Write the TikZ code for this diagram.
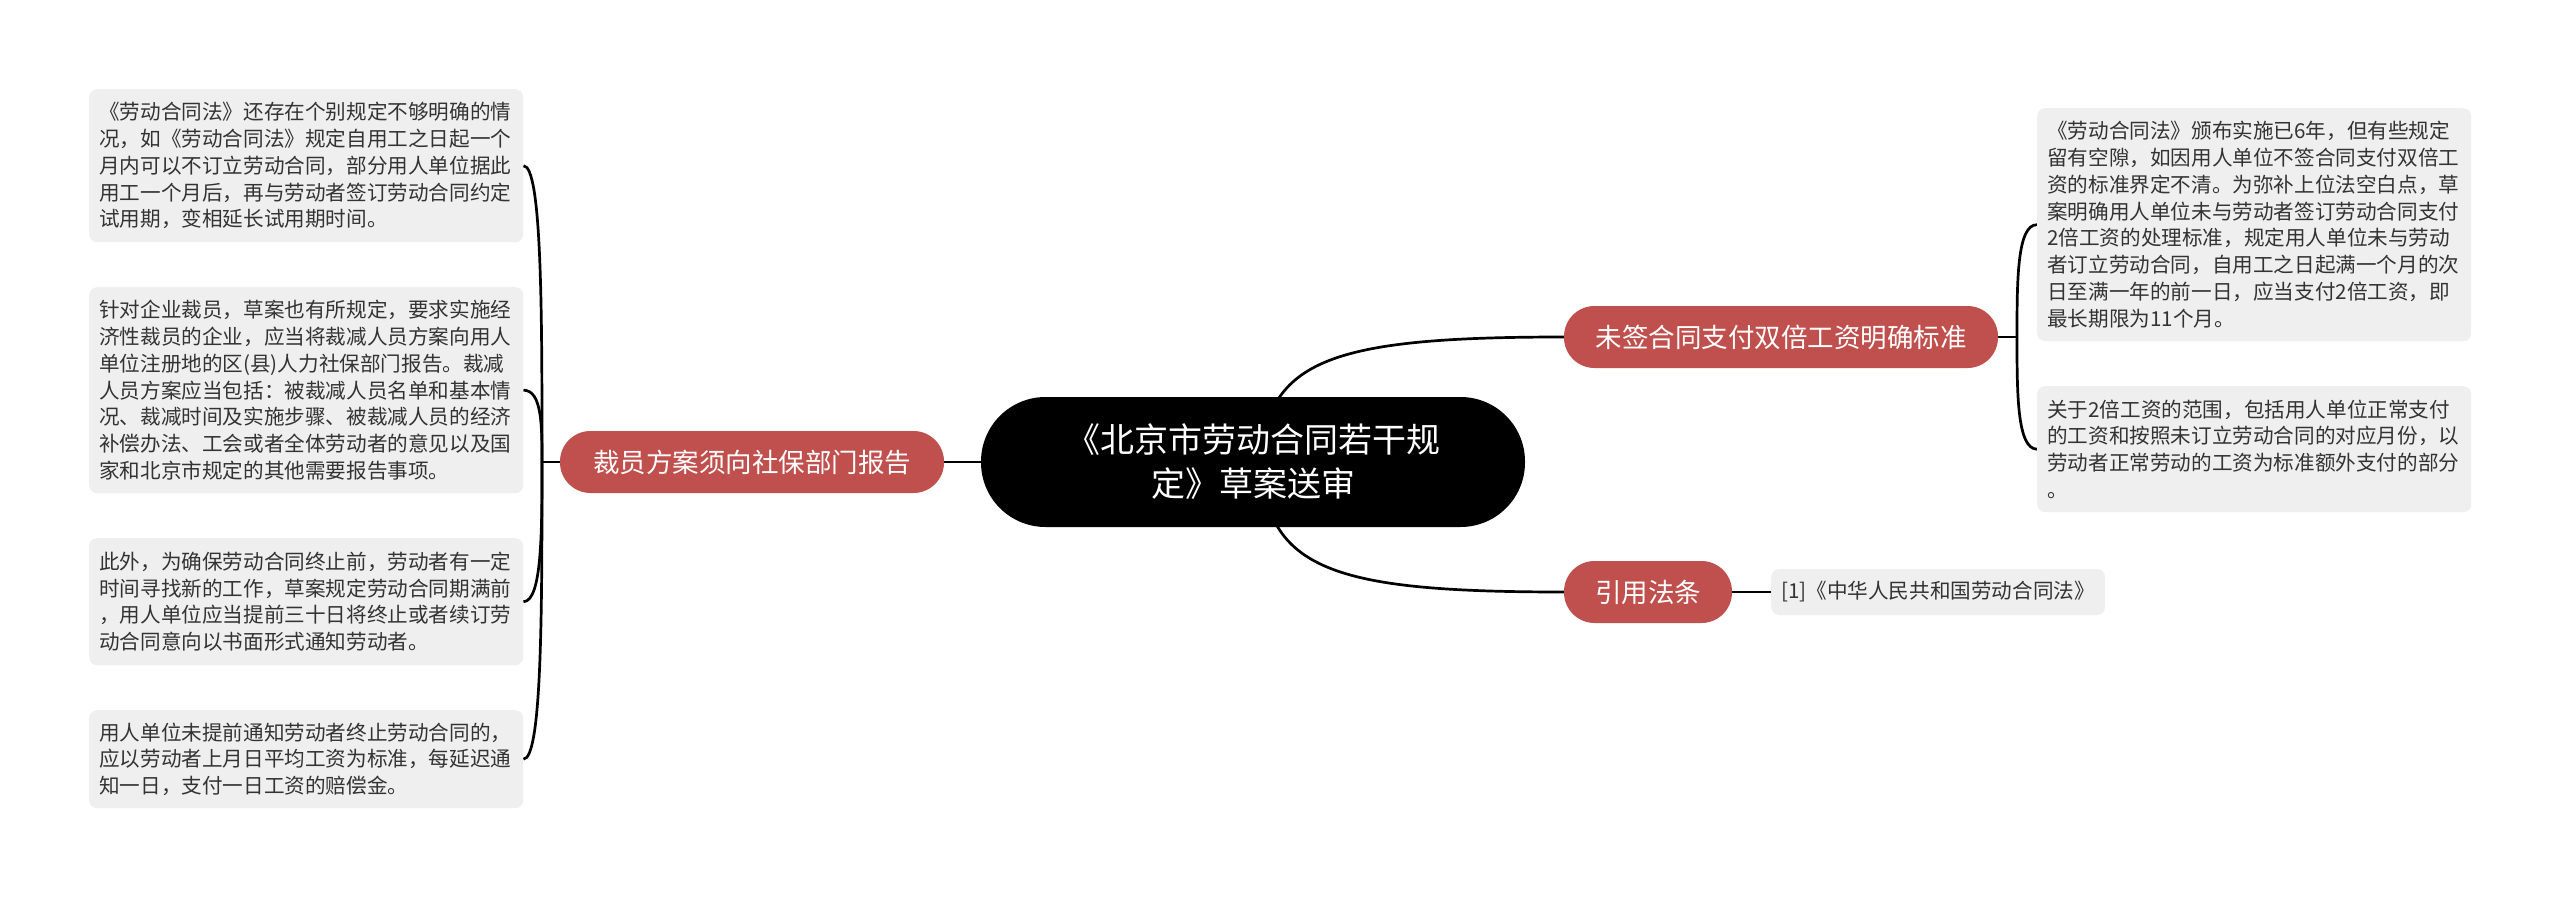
\documentclass[tikz,border=0pt]{standalone}
\usepackage{fontspec}
\newfontfamily\cjk{Noto Sans CJK SC}
\usetikzlibrary{backgrounds}
\definecolor{mred}{HTML}{C0504D}
\definecolor{leafgray}{HTML}{EFEFEF}
\definecolor{txt}{HTML}{333333}
\begin{document}
\begin{tikzpicture}[x=1pt,y=-1pt,
  conn/.style={line width=2.7pt, black},
  rootbox/.style={fill=black, text=white, rounded corners=64.5pt, minimum width=544pt, minimum height=130pt, align=center, inner sep=0pt, font=\cjk\fontsize{34pt}{44pt}\selectfont},
  mainbox/.style={fill=mred, text=white, rounded corners=30.5pt, minimum height=62pt, inner sep=0pt, font=\cjk\fontsize{26.5pt}{32pt}\selectfont},
  leafbox/.style={fill=leafgray, text=txt, rounded corners=8pt, inner xsep=10pt, inner ysep=0pt, font=\cjk\fontsize{20.6pt}{26.8pt}\selectfont},
  para/.style={leafbox, text width=414pt, align=left, minimum width=434pt, anchor=north west}
]
\useasboundingbox (0,0) rectangle (2560,899);

% central topic
\node[rootbox] (root) at (1253,462) {《北京市劳动合同若干规\\定》草案送审};

% main topics
\node[mainbox, minimum width=384pt] (cy) at (752,462) {裁员方案须向社保部门报告};
\node[mainbox, minimum width=434pt] (wq) at (1781,337) {未签合同支付双倍工资明确标准};
\node[mainbox, minimum width=168pt] (yy) at (1648,592) {引用法条};

% leaf under 引用法条
\node[leafbox, minimum height=46pt, anchor=west] (law) at (1771,592) {[1]《中华人民共和国劳动合同法》};

% left leaves
\node[para, minimum height=153pt] (a1) at (89,89) {《劳动合同法》还存在个别规定不够明确的情\\况，如《劳动合同法》规定自用工之日起一个\\月内可以不订立劳动合同，部分用人单位据此\\用工一个月后，再与劳动者签订劳动合同约定\\试用期，变相延长试用期时间。};
\node[para, minimum height=206pt] (a2) at (89,287) {针对企业裁员，草案也有所规定，要求实施经\\济性裁员的企业，应当将裁减人员方案向用人\\单位注册地的区(县)人力社保部门报告。裁减\\人员方案应当包括：被裁减人员名单和基本情\\况、裁减时间及实施步骤、被裁减人员的经济\\补偿办法、工会或者全体劳动者的意见以及国\\家和北京市规定的其他需要报告事项。};
\node[para, minimum height=127pt] (a3) at (89,538) {此外，为确保劳动合同终止前，劳动者有一定\\时间寻找新的工作，草案规定劳动合同期满前\\，用人单位应当提前三十日将终止或者续订劳\\动合同意向以书面形式通知劳动者。};
\node[para, minimum height=98pt] (a4) at (89,710) {用人单位未提前通知劳动者终止劳动合同的，\\应以劳动者上月日平均工资为标准，每延迟通\\知一日，支付一日工资的赔偿金。};

% right leaves
\node[para, minimum height=233pt] (b1) at (2037,108) {《劳动合同法》颁布实施已6年，但有些规定\\留有空隙，如因用人单位不签合同支付双倍工\\资的标准界定不清。为弥补上位法空白点，草\\案明确用人单位未与劳动者签订劳动合同支付\\2倍工资的处理标准，规定用人单位未与劳动\\者订立劳动合同，自用工之日起满一个月的次\\日至满一年的前一日，应当支付2倍工资，即\\最长期限为11个月。};
\node[para, minimum height=126pt] (b2) at (2037,386) {关于2倍工资的范围，包括用人单位正常支付\\的工资和按照未订立劳动合同的对应月份，以\\劳动者正常劳动的工资为标准额外支付的部分\\。};

\coordinate (jl) at (542,462);
\coordinate (jr) at (2017,337);

\begin{pgfonlayer}{background}
\fill[white] (0,0) rectangle (2560,899);
% root connectors
\draw[conn] (root.center) -- (cy.east);
\draw[conn] ([xshift=7pt]root.center) .. controls (1268,360) and (1330,337) .. (wq.west);
\draw[conn] ([xshift=7pt]root.center) .. controls (1268,569) and (1330,592) .. (yy.west);
% left bracket
\draw[conn] (cy.west) -- (jl);
\draw[conn] (jl) .. controls (542,314) and (542,165.5) .. (a1.east);
\draw[conn] (jl) .. controls (542,426) and (542,390) .. (a2.east);
\draw[conn] (jl) .. controls (542,532) and (542,601.5) .. (a3.east);
\draw[conn] (jl) .. controls (542,610) and (542,759) .. (a4.east);
% right bracket
\draw[conn] (wq.east) -- (jr);
\draw[conn] (jr) .. controls (2017,281) and (2017,224.5) .. (b1.west);
\draw[conn] (jr) .. controls (2017,393) and (2017,449) .. (b2.west);
% law
\draw[conn] (yy.east) -- (law.west);
\end{pgfonlayer}
\end{tikzpicture}
\end{document}
